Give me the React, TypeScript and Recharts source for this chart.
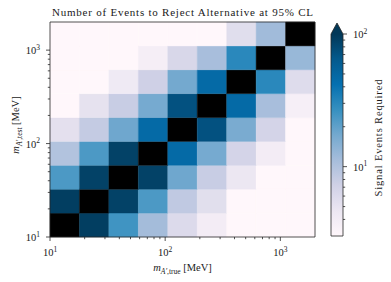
import React from 'react';
import { ComposedChart, XAxis, YAxis, ReferenceArea, Scatter } from 'recharts';

// ---------- data ----------
// log-spaced mass bin edges [MeV] (same for true and test mass)
const massBinEdges = [10, 18.03, 32.45, 58.5, 105.4, 189.8, 342.2, 616.3, 1110, 2000];

// Signal events required; one array per test-mass bin (bottom -> top),
// entries per true-mass bin (left -> right); null = diagonal (true = test)
const eventsTestBin0 = [null, 93, 25, 11.4, 6.0, 4.0, 2, 2, 2];
const eventsTestBin1 = [93, null, 88, 23, 8.5, 5.5, 2, 2, 2];
const eventsTestBin2 = [23, 88, null, 88, 18, 7.8, 4.6, 2, 2];
const eventsTestBin3 = [9.9, 23, 88, null, 47, 17, 6.8, 4.0, 2];
const eventsTestBin4 = [5.3, 8.2, 18, 47, null, 72, 16.5, 6.8, 2];
const eventsTestBin5 = [2, 5.1, 7.8, 17, 72, null, 47, 10.9, 3.7];
const eventsTestBin6 = [2, 2, 4.3, 7.3, 17.3, 47, null, 30, 5.8];
const eventsTestBin7 = [2, 2, 2, 3.8, 6.4, 10.9, 30, null, 12.6];
const eventsTestBin8 = [2, 2, 2, 2, 2, 2, 5.6, 11.7, null];
const eventsByTestBin = [
  eventsTestBin0, eventsTestBin1, eventsTestBin2, eventsTestBin3, eventsTestBin4,
  eventsTestBin5, eventsTestBin6, eventsTestBin7, eventsTestBin8,
];

const majorTicks = [10, 100, 1000];
const majorTickExponents = ['1', '2', '3'];
const minorTicks = [20, 30, 40, 50, 60, 70, 80, 90, 200, 300, 400, 500, 600, 700, 800, 900];

const colorbarRange = [3, 100];
const colorbarMajorTicks = [10, 100];
const colorbarMajorExponents = ['1', '2'];
const colorbarMinorTicks = [4, 5, 6, 7, 8, 9, 20, 30, 40, 50, 60, 70, 80, 90];

const titleText = 'Number of Events to Reject Alternative at 95% CL';
const colorbarLabel = 'Signal Events Required';

// ---------- style ----------
const W = 391;
const H = 282;
const SERIF = '"Liberation Serif", "DejaVu Serif", serif';
const AXIS_COLOR = '#262626';
const TEXT_COLOR = '#1a1a1a';
const V_MIN = colorbarRange[0];
const V_MAX = colorbarRange[1];
const PUBU = ['#fff7fb', '#ece7f2', '#d0d1e6', '#a6bddb', '#74a9cf', '#3690c0', '#0570b0', '#045a8d', '#023858'];

function hexToRgb(h: string) {
  const n = parseInt(h.slice(1), 16);
  return [(n >> 16) & 255, (n >> 8) & 255, n & 255];
}
function pubu(t: number) {
  const c = Math.max(0, Math.min(1, t)) * (PUBU.length - 1);
  const i = Math.min(PUBU.length - 2, Math.floor(c));
  const f = c - i;
  const a = hexToRgb(PUBU[i]);
  const b = hexToRgb(PUBU[i + 1]);
  const m = a.map((av, k) => Math.round(av + (b[k] - av) * f));
  return `rgb(${m[0]},${m[1]},${m[2]})`;
}
function colorFor(v: number | null) {
  if (v == null) return '#000000';
  const t = (Math.log10(v) - Math.log10(V_MIN)) / (Math.log10(V_MAX) - Math.log10(V_MIN));
  return pubu(t);
}

const cells = eventsByTestBin.flatMap((row, j) =>
  row.map((value, i) => ({
    x1: massBinEdges[i],
    x2: massBinEdges[i + 1],
    y1: massBinEdges[j],
    y2: massBinEdges[j + 1],
    value,
  }))
);
const cellCenters = cells.map((c) => ({ x: Math.sqrt(c.x1 * c.x2), y: Math.sqrt(c.y1 * c.y2) }));
const colorbarPoints = colorbarRange.map((v) => ({ x: 0.5, y: v }));

const allTicks = [...majorTicks, ...minorTicks].sort((a, b) => a - b);
const allCbarTicks = [...colorbarMajorTicks, ...colorbarMinorTicks].sort((a, b) => a - b);

const XTick = (props: any) => {
  const { x, y, payload } = props;
  const mi = majorTicks.indexOf(payload.value);
  return (
    <g>
      <line x1={x} x2={x} y1={y} y2={y + (mi >= 0 ? 4 : 2.2)} stroke={AXIS_COLOR} strokeWidth={0.8} />
      {mi >= 0 && (
        <text x={x} y={y + 19} textAnchor="middle" fontFamily={SERIF} fontSize={10.5} fill={TEXT_COLOR}>
          10<tspan dy={-4.5} fontSize={7.5}>{majorTickExponents[mi]}</tspan>
        </text>
      )}
    </g>
  );
};

const YTick = (props: any) => {
  const { x, y, payload } = props;
  const mi = majorTicks.indexOf(payload.value);
  return (
    <g>
      <line x1={x - (mi >= 0 ? 4 : 2.2)} x2={x} y1={y} y2={y} stroke={AXIS_COLOR} strokeWidth={0.8} />
      {mi >= 0 && (
        <text x={x - 10} y={y + 4} textAnchor="end" fontFamily={SERIF} fontSize={10.5} fill={TEXT_COLOR}>
          10<tspan dy={-4.5} fontSize={7.5}>{majorTickExponents[mi]}</tspan>
        </text>
      )}
    </g>
  );
};

const CbarTick = (props: any) => {
  const { x, y, payload } = props;
  const mi = colorbarMajorTicks.indexOf(payload.value);
  return (
    <g>
      <line x1={x} x2={x + (mi >= 0 ? 4 : 2.2)} y1={y} y2={y} stroke={AXIS_COLOR} strokeWidth={0.8} />
      {mi >= 0 && (
        <text x={x + 10} y={y + 4} textAnchor="start" fontFamily={SERIF} fontSize={10.5} fill={TEXT_COLOR}>
          10<tspan dy={-4.5} fontSize={7.5}>{colorbarMajorExponents[mi]}</tspan>
        </text>
      )}
    </g>
  );
};

const ColorbarShape = (props: any) => {
  const { x, y, width, height } = props;
  if ([x, y, width, height].some((v) => typeof v !== 'number' || isNaN(v))) return <g />;
  const arrow = 11;
  return (
    <g>
      <defs>
        <linearGradient id="pubuGrad" x1="0" y1="1" x2="0" y2="0">
          {PUBU.map((c, k) => (
            <stop key={k} offset={k / (PUBU.length - 1)} stopColor={c} />
          ))}
        </linearGradient>
      </defs>
      <rect x={x} y={y} width={width} height={height} fill="url(#pubuGrad)" />
      <polygon points={`${x},${y} ${x + width / 2},${y - arrow} ${x + width},${y}`} fill={PUBU[PUBU.length - 1]} />
      <path
        d={`M${x},${y + height} L${x},${y} L${x + width / 2},${y - arrow} L${x + width},${y} L${x + width},${y + height} Z`}
        fill="none"
        stroke={AXIS_COLOR}
        strokeWidth={0.8}
      />
    </g>
  );
};

export default function App() {
  return (
    <div style={{ position: 'absolute', left: 0, top: 0, width: W, height: H, background: '#fff' }}>
      <div style={{ position: 'absolute', left: 0, top: 0 }}>
        <ComposedChart width={W} height={H} margin={{ top: 22, right: 76, left: 0, bottom: 0 }}>
          <XAxis
            type="number"
            dataKey="x"
            scale="log"
            domain={[10, 2000]}
            allowDataOverflow
            ticks={allTicks}
            interval={0}
            tick={<XTick />}
            tickSize={0}
            tickMargin={0}
            tickLine={false}
            axisLine={false}
            height={45}
          />
          <YAxis
            type="number"
            dataKey="y"
            scale="log"
            domain={[10, 2000]}
            allowDataOverflow
            ticks={allTicks}
            interval={0}
            tick={<YTick />}
            tickSize={0}
            tickMargin={0}
            tickLine={false}
            axisLine={false}
            width={50}
          />
          {cells.map((c, k) => (
            <ReferenceArea
              key={k}
              x1={c.x1}
              x2={c.x2}
              y1={c.y1}
              y2={c.y2}
              fill={colorFor(c.value)}
              fillOpacity={1}
              stroke={colorFor(c.value)}
              strokeWidth={0.4}
              ifOverflow="visible"
            />
          ))}
          <Scatter data={cellCenters} fill="none" isAnimationActive={false} shape={() => <g />} />
          <ReferenceArea
            x1={10}
            x2={2000}
            y1={10}
            y2={2000}
            fill="none"
            fillOpacity={0}
            stroke={AXIS_COLOR}
            strokeWidth={0.8}
            ifOverflow="visible"
          />
        </ComposedChart>
      </div>
      <div style={{ position: 'absolute', left: 0, top: 0 }}>
        <ComposedChart width={W} height={H} margin={{ top: 34, right: 8, left: 331, bottom: 46 }}>
          <XAxis type="number" dataKey="x" domain={[0, 1]} hide />
          <YAxis
            type="number"
            dataKey="y"
            orientation="right"
            scale="log"
            domain={[V_MIN, V_MAX]}
            allowDataOverflow
            ticks={allCbarTicks}
            interval={0}
            tick={<CbarTick />}
            tickSize={0}
            tickMargin={0}
            tickLine={false}
            axisLine={false}
            width={40}
          />
          <Scatter data={colorbarPoints} fill="none" isAnimationActive={false} shape={() => <g />} />
          <ReferenceArea x1={0} x2={1} y1={V_MIN} y2={V_MAX} shape={(p: any) => <ColorbarShape {...p} />} ifOverflow="visible" />
        </ComposedChart>
      </div>
      <svg width={W} height={H} style={{ position: 'absolute', left: 0, top: 0, pointerEvents: 'none' }}>
        <text x={182.5} y={15.5} textAnchor="middle" fontFamily={SERIF} fontSize={11} fill={TEXT_COLOR} textLength={261} lengthAdjust="spacing">
          {titleText}
        </text>
        <text x={182.5} y={271} textAnchor="middle" fontFamily={SERIF} fontSize={10.5} fill={TEXT_COLOR}>
          <tspan fontStyle="italic">m</tspan>
          <tspan dy={2.5} fontSize={7.5} fontStyle="italic">A′</tspan>
          <tspan fontSize={7.5}>,true</tspan>
          <tspan dy={-2.5}> [MeV]</tspan>
        </text>
        <text transform="translate(19,125) rotate(-90)" textAnchor="middle" fontFamily={SERIF} fontSize={10.5} fill={TEXT_COLOR}>
          <tspan fontStyle="italic">m</tspan>
          <tspan dy={2.5} fontSize={7.5} fontStyle="italic">A′</tspan>
          <tspan fontSize={7.5}>,test</tspan>
          <tspan dy={-2.5}> [MeV]</tspan>
        </text>
        <text transform="translate(382,138) rotate(-90)" textAnchor="middle" fontFamily={SERIF} fontSize={10.5} fill={TEXT_COLOR} textLength={117} lengthAdjust="spacing">
          {colorbarLabel}
        </text>
      </svg>
    </div>
  );
}
